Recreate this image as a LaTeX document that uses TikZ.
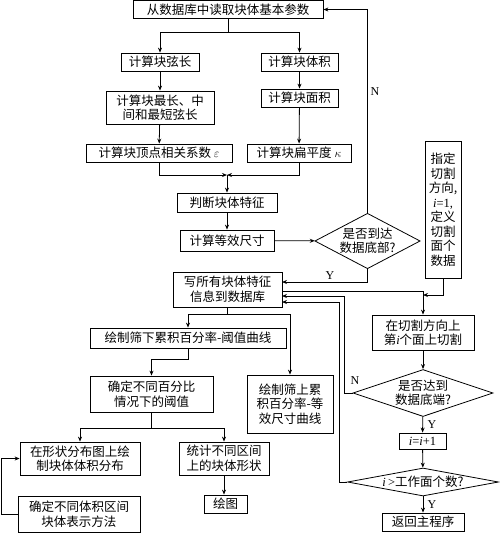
\documentclass[tikz,border=0pt]{standalone}
\usepackage{fontspec}
\setmainfont{Noto Sans CJK SC}
\newfontfamily\lat{Liberation Serif}
\usetikzlibrary{arrows.meta,shapes.geometric}
\begin{document}
\begin{tikzpicture}[x=1pt,y=-1pt,
 box/.style={draw, line width=0.8pt, inner sep=0pt, align=center, font=\fontsize{12.5}{14.5}\selectfont},
 dia/.style={draw, diamond, line width=0.8pt, inner sep=0pt, align=center, font=\fontsize{12.5}{14.5}\selectfont},
 arr/.style={line width=0.8pt, -{Stealth[length=5pt,width=4pt]}},
 ln/.style={line width=0.8pt},
 lab/.style={font=\lat\fontsize{12}{14}\selectfont, inner sep=0pt}
]
\useasboundingbox (0,0) rectangle (500,533);
% boxes
\node[box, minimum width=190pt, minimum height=18pt] (top) at (228,9.5) {从数据库中读取块体基本参数};
\node[box, minimum width=78pt, minimum height=18pt] (xian) at (160,62) {计算块弦长};
\node[box, minimum width=77pt, minimum height=18pt] (tiji) at (299.5,62) {计算块体积};
\node[box, minimum width=108pt, minimum height=33pt] (zui) at (160,107.5) {计算块最长、中\\间和最短弦长};
\node[box, minimum width=77pt, minimum height=18pt] (mian) at (299.5,98) {计算块面积};
\node[box, minimum width=146pt, minimum height=18pt] (eps) at (159,153) {计算块顶点相关系数 $\varepsilon$};
\node[box, minimum width=104pt, minimum height=18pt] (kap) at (299,153) {计算块扁平度 $\kappa$};
\node[box, minimum width=100pt, minimum height=19pt] (pan) at (227,202.5) {判断块体特征};
\node[box, minimum width=94pt, minimum height=21pt] (deng) at (227,240.5) {计算等效尺寸};
\node[dia, minimum width=105pt, minimum height=55pt, aspect=1.9] (d1) at (367.5,241) {是否到达\\数据底部?};
\node[box, minimum width=36pt, minimum height=137pt] (zhi) at (443,209.5) {指定\\切割\\方向,\\{\lat\textit{i}=1,}\\定义\\切割\\面个\\数据};
\node[box, minimum width=109pt, minimum height=35pt] (xie) at (227.5,289.5) {写所有块体特征\\信息到数据库};
\node[box, minimum width=102pt, minimum height=35pt] (qie) at (423,332.5) {在切割方向上\\第{\lat\textit{i}}个面上切割};
\node[box, minimum width=196pt, minimum height=20pt] (sxia) at (188,338) {绘制筛下累积百分率-阈值曲线};
\node[box, minimum width=123pt, minimum height=36pt] (bfb) at (151.5,394) {确定不同百分比\\情况下的阈值};
\node[box, minimum width=86pt, minimum height=58pt] (sshang) at (290,404) {绘制筛上累\\积百分率-等\\效尺寸曲线};
\node[dia, minimum width=140pt, minimum height=47pt, aspect=3] (d2) at (423,393) {是否达到\\数据底端?};
\node[box, minimum width=120pt, minimum height=33pt] (xz) at (80,458.5) {在形状分布图上绘\\制块体体积分布};
\node[box, minimum width=90pt, minimum height=33pt] (tj) at (224,458.5) {统计不同区间\\上的块体形状};
\node[box, minimum width=43pt, minimum height=18pt] (ht) at (225.5,504) {绘图};
\node[box, minimum width=122pt, minimum height=36pt] (qd) at (79,514) {确定不同体积区间\\块体表示方法};
\node[box, minimum width=47pt, minimum height=16pt] (inc) at (422.5,441) {{\lat\textit{i}=\textit{i}+1}};
\node[dia, minimum width=151pt, minimum height=28pt, aspect=5.4] (d3) at (423,482) {{\lat\textit{i}\,>}工作面个数?};
\node[box, minimum width=82pt, minimum height=18pt] (fh) at (423,522) {返回主程序};
% helper coordinates
\coordinate (j1) at (228,32);
\coordinate (jc) at (227,175);
\coordinate (yin) at (282,282);
\coordinate (xo) at (282,291);
\coordinate (zj) at (423,295);
\coordinate (xin1) at (282,296);
\coordinate (xin2) at (282,302);
\coordinate (j2) at (227.5,314);
\coordinate (j3) at (151.5,428);
% connectors
\draw[ln] (top.south) -- (j1);
\draw[arr] (j1) -| (xian.north);
\draw[arr] (j1) -| (tiji.north);
\draw[arr] (xian) -- (zui);
\draw[arr] (tiji) -- (mian);
\draw[arr] (zui) -- (eps);
\draw[arr] (mian) -- (kap);
\draw[arr] (eps.south) |- (jc);
\draw[arr] (kap.south) |- (jc);
\draw[arr] (jc) -- (pan.north);
\draw[arr] (pan) -- (deng);
\draw[arr] (deng) -- (d1);
\draw[arr] (d1.north) |- (top.east);
\node[lab] (nlab1) at (375,92) {N};
\draw[arr] (d1.south) |- (yin);
\node[lab] (ylab1) at (330,276) {Y};
\draw[arr] (xo) -| (qie.north);
\draw[arr] (zhi.south) |- (zj);
\draw[arr] (qie) -- (d2);
\draw[arr] (d2) -- (inc);
\node[lab] (ylab2) at (432,425) {Y};
\draw[arr] (inc) -- (d3);
\draw[arr] (d3) -- (fh);
\node[lab] (ylab3) at (432,505) {Y};
\draw[arr] (d2.west) -- ++(-8,0) |- (xin1);
\node[lab] (nlab2) at (355,381) {N};
\draw[arr] (d3.west) -- ++(-8,0) |- (xin2);
\draw[ln] (xie.south) -- (j2);
\draw[arr] (j2) -| (sxia.north);
\draw[arr] (j2) -| (sshang.north);
\draw[arr] (sxia.south) -- ++(0,11) -| (bfb.north);
\draw[ln] (bfb.south) -- (j3);
\draw[arr] (j3) -| (xz.north);
\draw[arr] (j3) -| (tj.north);
\draw[arr] (tj.south) -- (tj.south |- ht.north);
\draw[arr] (qd.west) -- ++(-16,0) |- (xz.west);
\end{tikzpicture}
\end{document}
